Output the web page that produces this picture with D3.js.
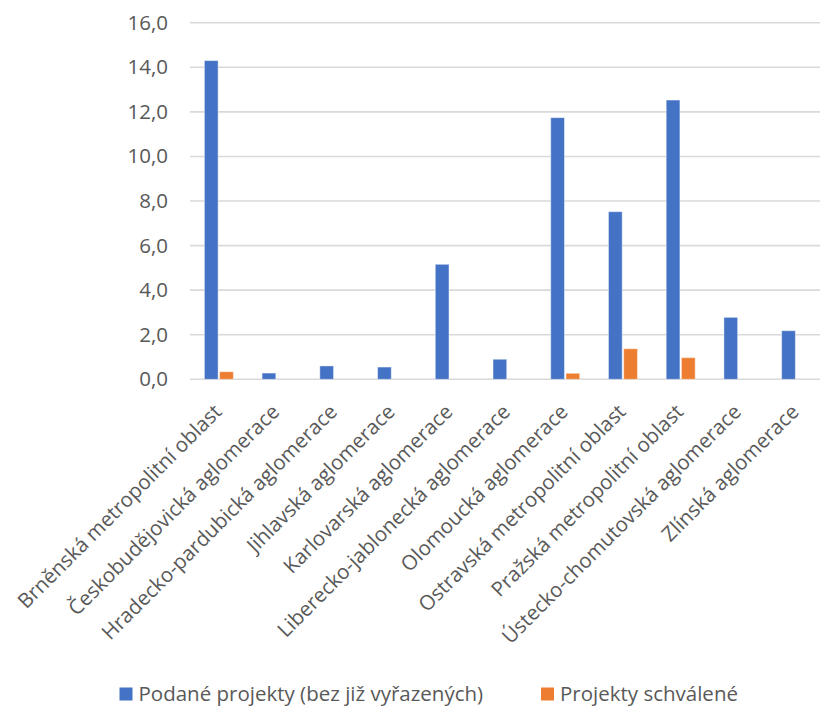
<!DOCTYPE html>
<html>
<head>
<meta charset="utf-8">
<script src="https://cdn.jsdelivr.net/npm/d3@7"></script>
<style>
  body { margin: 0; background: #fff; }
  text { font-family: "Open Sans", sans-serif; fill: #595959; }
</style>
</head>
<body>
<div class="container"></div>
<script>
const categories = [
  "Brněnská metropolitní oblast",
  "Českobudějovická aglomerace",
  "Hradecko-pardubická aglomerace",
  "Jihlavská aglomerace",
  "Karlovarská aglomerace",
  "Liberecko-jablonecká aglomerace",
  "Olomoucká aglomerace",
  "Ostravská metropolitní oblast",
  "Pražská metropolitní oblast",
  "Ústecko-chomutovská aglomerace",
  "Zlínská aglomerace"
]
const podane = [14.3, 0.28, 0.6, 0.55, 5.16, 0.9, 11.74, 7.52, 12.53, 2.78, 2.18]
const schvalene = [0.34, 0, 0, 0, 0, 0, 0.27, 1.37, 0.97, 0, 0]
const seriesNames = ["Podané projekty (bez již vyřazených)", "Projekty schválené"]
const colors = ["#4472C4", "#ED7D31"]
const yTicks = [0, 2, 4, 6, 8, 10, 12, 14, 16]

const width = 820, height = 706

const svg = d3.select(".container")
              .append("svg")
              .attr("width", width)
              .attr("height", height)

const xScale = d3.scaleBand()
                 .domain(categories)
                 .range([190, 825])

const yScale = d3.scaleLinear()
                 .domain([0, 16])
                 .range([379.3, 22.7])

const inner = d3.scaleBand()
                .domain([0, 1])
                .range([xScale.bandwidth()/2 - 14.5, xScale.bandwidth()/2 + 14.5])
                .paddingInner(0.1)

// gridlines
svg.append("g")
   .selectAll("line")
   .data(yTicks)
   .enter()
   .append("line")
   .attr("x1", 190)
   .attr("x2", 825)
   .attr("y1", (d)=>yScale(d))
   .attr("y2", (d)=>yScale(d))
   .attr("stroke", "#d9d9d9")
   .attr("stroke-width", 1.6)

// y axis labels
const fmt = (d)=> d3.format(".1f")(d).replace(".", ",")
const yAxis = d3.axisLeft(yScale).tickValues(yTicks).tickFormat(fmt).tickSize(0).tickPadding(22)
const yG = svg.append("g").attr("transform", "translate(190,0)").call(yAxis)
yG.select(".domain").remove()
yG.selectAll("text")
  .style("font-family", "'Open Sans', sans-serif")
  .style("font-size", "20.5px")
  .attr("fill", "#595959")

// bars
const series = [podane, schvalene]
series.forEach((vals, si)=>{
  const rows = vals.map((v, i)=>({cat: categories[i], value: v})).filter((r)=> r.value > 0)
  svg.append("g")
     .selectAll("rect")
     .data(rows)
     .enter()
     .append("rect")
     .attr("x", (r)=> xScale(r.cat) + inner(si))
     .attr("y", (r)=> yScale(r.value))
     .attr("width", inner.bandwidth())
     .attr("height", (r)=> yScale(0) - yScale(r.value))
     .attr("fill", colors[si])
     .attr("stroke", "rgba(255,255,255,0.45)")
     .attr("stroke-width", 1)
})

// category labels
svg.append("g")
   .selectAll("text")
   .data(categories)
   .enter()
   .append("text")
   .text((c)=>c)
   .attr("text-anchor", "end")
   .style("font-size", "20.5px")
   .attr("transform", (c)=>{
      const x = xScale(c) + xScale.bandwidth()/2 + 4
      const y = 413
      return "translate("+x+","+y+") rotate(-45)"
   })

// legend
const legendX = [119.5, 541]
seriesNames.forEach((name, i)=>{
  svg.append("rect")
     .attr("x", legendX[i])
     .attr("y", 687.5)
     .attr("width", 13)
     .attr("height", 13)
     .attr("fill", colors[i])
  svg.append("text")
     .attr("x", legendX[i] + 19)
     .attr("y", 701)
     .style("font-size", "20.5px")
     .text(name)
})
</script>
</body>
</html>
